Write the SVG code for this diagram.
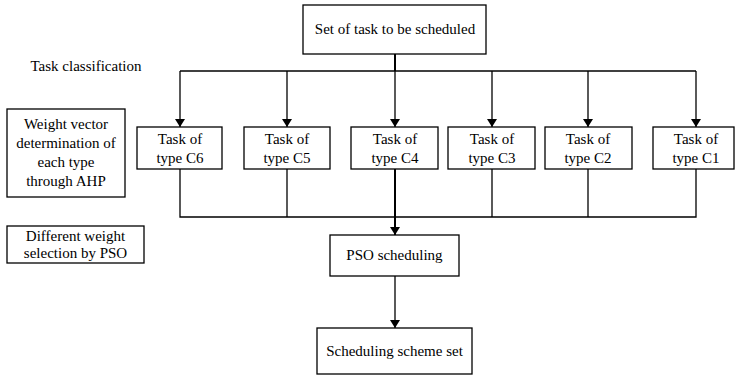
<svg xmlns="http://www.w3.org/2000/svg" width="735" height="377" viewBox="0 0 735 377">
<style>
.box{fill:#fff;stroke:#000;stroke-width:1.3}
.ln{fill:none;stroke:#000;stroke-width:1.3}
.thick{stroke-width:2}
</style>
<defs>
<marker id="ah" markerWidth="8" markerHeight="10" refX="8" refY="5" orient="auto" markerUnits="userSpaceOnUse">
<path d="M0,0 L8,5 L0,10 Z" fill="#000"/>
</marker>
</defs>
<rect width="735" height="377" fill="#fff"/>
<g id="connectors">
<path class="ln thick" d="M395,54 V71"/>
<path class="ln" d="M180,71 H696"/>
<path class="ln" d="M180,71 V127" marker-end="url(#ah)"/>
<path class="ln" d="M287,71 V127" marker-end="url(#ah)"/>
<path class="ln" d="M395,71 V127" marker-end="url(#ah)"/>
<path class="ln" d="M492,71 V127" marker-end="url(#ah)"/>
<path class="ln" d="M588,71 V127" marker-end="url(#ah)"/>
<path class="ln" d="M696,71 V127" marker-end="url(#ah)"/>
<path class="ln" d="M180,169 V217 H696 V169"/>
<path class="ln" d="M287,169 V217"/>
<path class="ln" d="M492,169 V217"/>
<path class="ln" d="M588,169 V217"/>
<path class="ln thick" d="M395,169 V235" marker-end="url(#ah)"/>
<path class="ln" d="M395,276 V328" marker-end="url(#ah)"/>
</g>
<g font-family="Liberation Serif, serif" font-size="15" fill="#000" text-anchor="middle">
<g id="top">
<rect class="box" x="303" y="5" width="183" height="49"/>
<text x="395" y="34">Set of task to be scheduled</text>
</g>
<g id="label-classification">
<text x="86" y="71">Task classification</text>
</g>
<g id="weight-vector">
<rect class="box" x="7" y="109" width="118" height="88"/>
<text x="66" y="129">Weight vector</text>
<text x="66" y="148">determination of</text>
<text x="66" y="167">each type</text>
<text x="66" y="186">through AHP</text>
</g>
<g id="different-weight">
<rect class="box" x="7" y="226" width="137" height="37"/>
<text x="75.5" y="241">Different weight</text>
<text x="75.5" y="258">selection by PSO</text>
</g>
<g id="c6">
<rect class="box" x="137" y="127" width="85" height="42"/>
<text x="180" y="144">Task of</text>
<text x="180" y="163">type C6</text>
</g>
<g id="c5">
<rect class="box" x="244" y="127" width="86" height="42"/>
<text x="287" y="144">Task of</text>
<text x="287" y="163">type C5</text>
</g>
<g id="c4">
<rect class="box" x="351" y="127" width="87" height="42"/>
<text x="395" y="144">Task of</text>
<text x="395" y="163">type C4</text>
</g>
<g id="c3">
<rect class="box" x="448" y="127" width="87" height="42"/>
<text x="492" y="144">Task of</text>
<text x="492" y="163">type C3</text>
</g>
<g id="c2">
<rect class="box" x="545" y="127" width="87" height="42"/>
<text x="588" y="144">Task of</text>
<text x="588" y="163">type C2</text>
</g>
<g id="c1">
<rect class="box" x="653" y="127" width="81" height="42"/>
<text x="696" y="144">Task of</text>
<text x="696" y="163">type C1</text>
</g>
<g id="pso">
<rect class="box" x="330" y="235" width="129" height="41"/>
<text x="394.5" y="260">PSO scheduling</text>
</g>
<g id="scheme">
<rect class="box" x="317" y="328" width="155" height="46"/>
<text x="394.5" y="356">Scheduling scheme set</text>
</g>
</g>
</svg>
